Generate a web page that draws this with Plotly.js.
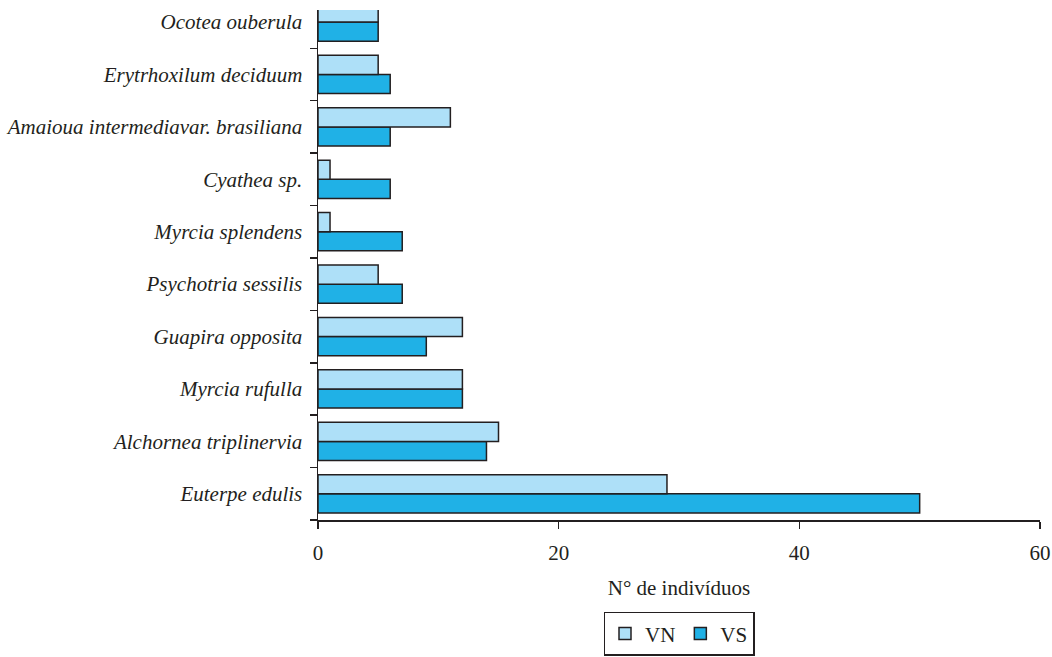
<!DOCTYPE html>
<html>
<head>
<meta charset="utf-8">
<script src="https://cdn.plot.ly/plotly-3.0.1.min.js"></script>
<style>html,body{margin:0;padding:0;background:#fff;}#chart{width:1052px;height:657px;}</style>
</head>
<body>
<div id="chart"></div>
<script>
const species = [
  "Euterpe edulis",
  "Alchornea triplinervia",
  "Myrcia rufulla",
  "Guapira opposita",
  "Psychotria sessilis",
  "Myrcia splendens",
  "Cyathea sp.",
  "Amaioua intermediavar. brasiliana",
  "Erytrhoxilum deciduum",
  "Ocotea ouberula"
];
const vnValues = [29, 15, 12, 12, 5, 1, 1, 11, 5, 5];
const vsValues = [50, 14, 12, 9, 7, 7, 6, 6, 6, 5];
const xTicks = [0, 20, 40, 60];

const fontFam = "Liberation Serif, DejaVu Serif, serif";
const lineCol = "#231f20";

const traces = [
  {
    type: "bar", orientation: "h", name: "VS",
    y: species, x: vsValues,
    marker: {color: "#20b1e6", line: {color: lineCol, width: 1.5}}
  },
  {
    type: "bar", orientation: "h", name: "VN",
    y: species, x: vnValues,
    marker: {color: "#aee0f8", line: {color: lineCol, width: 1.5}}
  }
];

const layout = {
  width: 1052, height: 657,
  margin: {l: 318, r: 12, t: 10, b: 137, autoexpand: false},
  paper_bgcolor: "#fff", plot_bgcolor: "#fff",
  barmode: "group",
  bargap: 0.27, bargroupgap: 0,
  font: {family: fontFam, color: "#231f20", size: 21},
  xaxis: {
    range: [0, 60],
    tickvals: xTicks,
    ticktext: xTicks.map(String),
    ticks: "outside", ticklen: 7, tickwidth: 1.5, tickcolor: lineCol,
    showline: true, linecolor: lineCol, linewidth: 1.5,
    showgrid: false, zeroline: false,
    ticklabelstandoff: 6,
    tickfont: {family: fontFam, size: 21},
    title: {text: "N° de indivíduos", font: {family: fontFam, size: 21}, standoff: 16}
  },
  yaxis: {
    type: "category",
    categoryorder: "array", categoryarray: species,
    range: [-0.5, 9.23],
    tickson: "boundaries",
    ticks: "outside", ticklen: 7, tickwidth: 1.5, tickcolor: lineCol,
    showline: true, linecolor: lineCol, linewidth: 1.5,
    showgrid: false, zeroline: false,
    ticklabelstandoff: 10,
    tickfont: {family: fontFam, size: 21, style: "italic"}
  },
  showlegend: true,
  legend: {
    orientation: "h", traceorder: "reversed",
    x: 0.5, xanchor: "center",
    y: -0.18, yanchor: "top",
    bordercolor: lineCol, borderwidth: 1.5,
    font: {family: fontFam, size: 21},
    itemwidth: 30
  }
};

Plotly.newPlot("chart", traces, layout, {displayModeBar: false, staticPlot: true});
</script>
</body>
</html>
